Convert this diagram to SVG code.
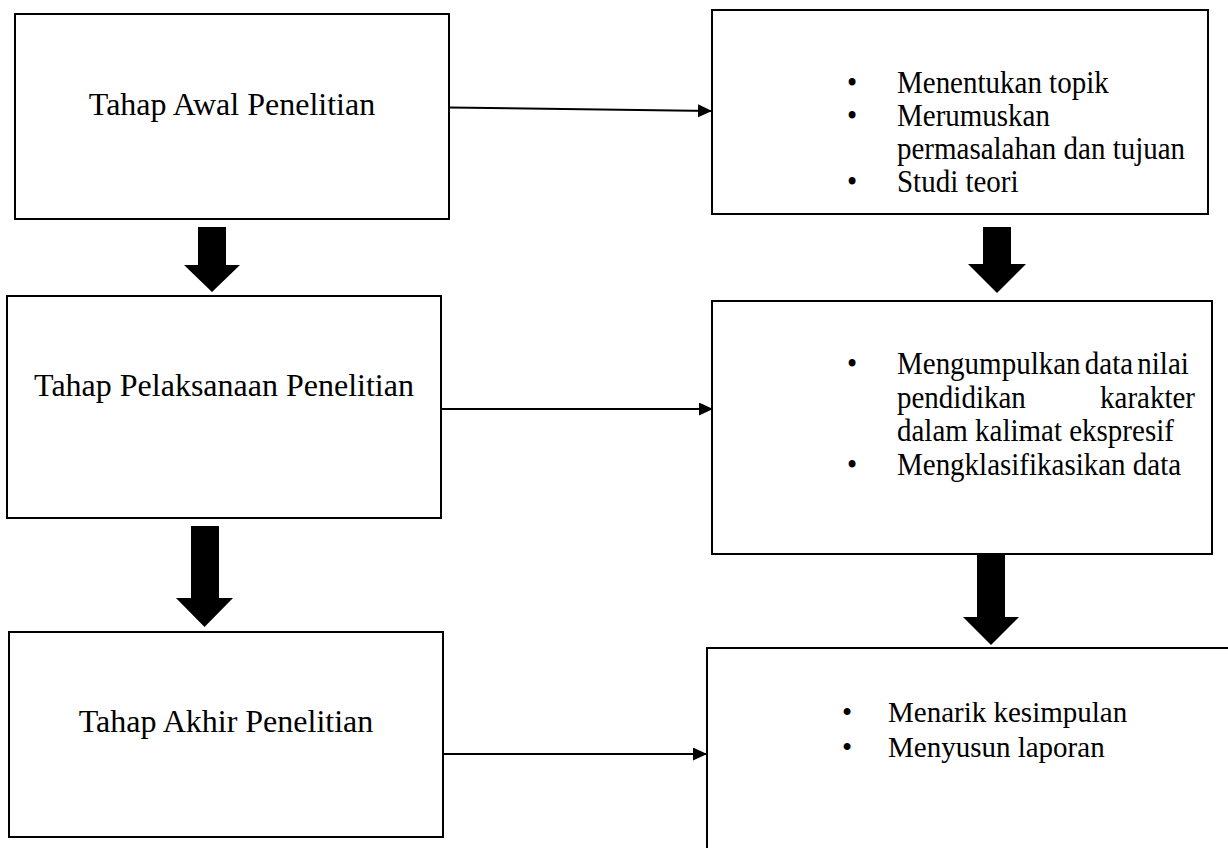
<svg xmlns="http://www.w3.org/2000/svg" width="1228" height="848" viewBox="0 0 1228 848">
  <style>
    .box { fill: #ffffff; stroke: #000000; stroke-width: 2; }
    text { font-family: 'Liberation Serif', 'Times New Roman', Times, 'DejaVu Serif', serif; fill: #000; }
    .lbl { font-size: 32px; text-anchor: middle; }
    .itm { font-size: 29px; }
    .bul { font-size: 29px; }
    .conn { stroke: #000; stroke-width: 2; fill: none; }
    .block { fill: #000; stroke: none; }
  </style>
  <defs>
    <marker id="ah" markerUnits="userSpaceOnUse" markerWidth="15" markerHeight="14" refX="14" refY="6.5" orient="auto">
      <path d="M0,0 L14,6.5 L0,13 Z" fill="#000"/>
    </marker>
  </defs>
  <rect width="1228" height="848" fill="#ffffff"/>

  <g id="node-awal">
    <rect class="box" x="15" y="14" width="434" height="205"/>
    <text class="lbl" x="232" y="115">Tahap Awal Penelitian</text>
  </g>

  <g id="node-awal-list">
    <rect class="box" x="712" y="10" width="496" height="204"/>
    <g transform="translate(0,93) scale(1,1.1)">
      <text class="bul" x="847" y="0">•</text>
      <text class="itm" x="897" y="0">Menentukan topik</text>
    </g>
    <g transform="translate(0,126) scale(1,1.1)">
      <text class="bul" x="847" y="0">•</text>
      <text class="itm" x="897" y="0">Merumuskan</text>
    </g>
    <g transform="translate(0,159) scale(1,1.1)">
      <text class="itm" x="897" y="0">permasalahan dan tujuan</text>
    </g>
    <g transform="translate(0,192) scale(1,1.1)">
      <text class="bul" x="847" y="0">•</text>
      <text class="itm" x="897" y="0">Studi teori</text>
    </g>
  </g>

  <g id="node-pelaksanaan">
    <rect class="box" x="7" y="296" width="434" height="222"/>
    <text class="lbl" x="224" y="396">Tahap Pelaksanaan Penelitian</text>
  </g>

  <g id="node-pelaksanaan-list">
    <rect class="box" x="712" y="301" width="500" height="253"/>
    <g transform="translate(0,374) scale(1,1.1)">
      <text class="bul" x="847" y="0">•</text>
      <text class="itm" x="897" y="0" word-spacing="-3">Mengumpulkan data nilai</text>
    </g>
    <g transform="translate(0,408) scale(1,1.1)">
      <text class="itm" y="0"><tspan x="897">pendidikan</tspan><tspan x="1195" text-anchor="end">karakter</tspan></text>
    </g>
    <g transform="translate(0,441) scale(1,1.1)">
      <text class="itm" x="897" y="0">dalam kalimat ekspresif</text>
    </g>
    <g transform="translate(0,475) scale(1,1.1)">
      <text class="bul" x="847" y="0">•</text>
      <text class="itm" x="897" y="0">Mengklasifikasikan data</text>
    </g>
  </g>

  <g id="node-akhir">
    <rect class="box" x="9" y="632" width="434" height="205"/>
    <text class="lbl" x="226" y="732">Tahap Akhir Penelitian</text>
  </g>

  <g id="node-akhir-list">
    <rect class="box" x="707" y="648" width="535" height="220"/>
    <text class="bul" x="842" y="722">•</text>
    <text class="itm" x="888" y="722">Menarik kesimpulan</text>
    <text class="bul" x="842" y="757">•</text>
    <text class="itm" x="888" y="757">Menyusun laporan</text>
  </g>

  <g id="connectors">
    <line class="conn" x1="449" y1="107.5" x2="712" y2="111" marker-end="url(#ah)"/>
    <line class="conn" x1="441" y1="409" x2="713" y2="409" marker-end="url(#ah)"/>
    <line class="conn" x1="443" y1="754" x2="707" y2="754" marker-end="url(#ah)"/>
    <polygon class="block" points="198,227 226,227 226,265 240,265 212,292 184,265 198,265"/>
    <polygon class="block" points="191,526 219,526 219,598 233,598 204.5,627 176,598 191,598"/>
    <polygon class="block" points="983,227 1011,227 1011,264 1026,264 997,293 968,264 983,264"/>
    <polygon class="block" points="977,555 1005,555 1005,617 1019,617 991,645 963,617 977,617"/>
  </g>
</svg>
